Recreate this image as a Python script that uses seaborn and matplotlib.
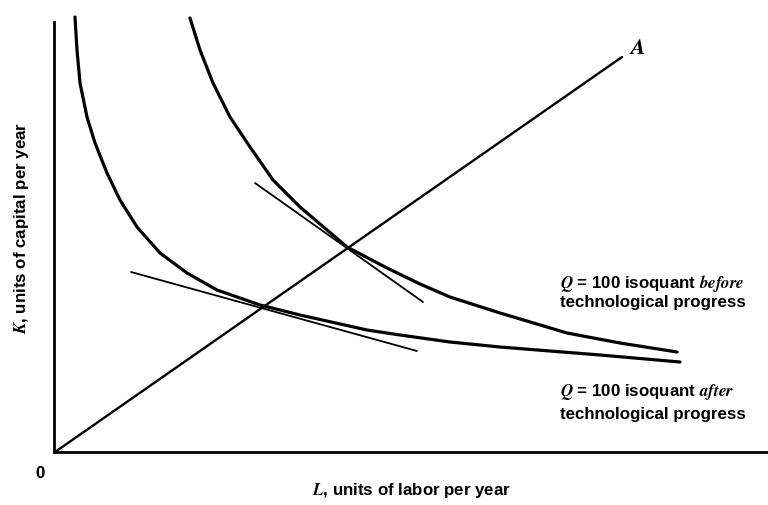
import matplotlib
matplotlib.use("Agg")
import matplotlib.pyplot as plt
import pandas as pd
import seaborn as sns

# isoquant "after" technological progress (lower curve)
after_L = [20, 22, 25, 32, 40, 52, 65, 82, 105, 132, 162, 205, 245, 312, 345, 395, 445, 495, 545, 625]
after_K = [435, 402, 369, 335, 309, 279, 252, 225, 199, 179, 162, 147, 137, 122, 117, 110, 105, 101, 97, 90]

# isoquant "before" technological progress (upper curve)
before_L = [135, 145, 158, 175, 195, 218, 245, 265, 292, 332, 365, 395, 445, 512, 565, 622]
before_K = [434, 402, 369, 335, 305, 272, 245, 228, 205, 184, 168, 155, 139, 119, 109, 100]

# tangent lines and ray A
tan_before_L = [200, 368]
tan_before_K = [269, 150]
tan_after_L = [76, 362]
tan_after_K = [180, 101]
ray_L = [0, 567]
ray_K = [0, 395]

sns.set_style("white")
plt.rcParams["font.family"] = ["Liberation Sans", "DejaVu Sans"]
plt.rcParams["mathtext.fontset"] = "stix"
plt.rcParams["text.color"] = "black"

fig = plt.figure(figsize=(7.68, 5.05), dpi=100)
ax = fig.add_axes([54 / 768, 53 / 505, 714 / 768, 452 / 505])

def curva(L, K, lw):
    df = pd.DataFrame({"L": L, "K": K})
    sns.lineplot(data=df, x="L", y="K", sort=False, estimator=None,
                 color="black", linewidth=lw, ax=ax)

curva(after_L, after_K, 2.3)
curva(before_L, before_K, 2.3)
curva(tan_before_L, tan_before_K, 1.3)
curva(tan_after_L, tan_after_K, 1.3)
curva(ray_L, ray_K, 1.7)

ax.set_xlim(-1, 713)
ax.set_ylim(0, 452)
ax.set_xticks([])
ax.set_yticks([])
ax.set_xlabel("")
ax.set_ylabel("")
sns.despine(ax=ax)
ax.spines["left"].set_bounds(0, 430)
for s in ["left", "bottom"]:
    ax.spines[s].set_linewidth(2)
    ax.spines[s].set_color("black")

fs = 12.2
fw = "bold"
ax.text(582, 404, "$\\mathbfit{A}$", fontsize=16, ha="center", va="center")
ax.text(505, 169, "$\\mathbfit{Q}$ = 100 isoquant $\\mathbfit{before}$", fontsize=fs, weight=fw, va="center")
ax.text(505, 149, "technological progress", fontsize=fs, weight=fw, va="center")
ax.text(505, 60, "$\\mathbfit{Q}$ = 100 isoquant $\\mathbfit{after}$", fontsize=fs, weight=fw, va="center")
ax.text(505, 38, "technological progress", fontsize=fs, weight=fw, va="center")

fig.text(40 / 768, 1 - 473 / 505, "0", fontsize=fs, weight=fw, ha="center", va="center")
fig.text(412 / 768, 1 - 490 / 505, "$\\mathbfit{L}$, units of labor per year",
         fontsize=fs, weight=fw, ha="center", va="center")
fig.text(22 / 768, 1 - 228 / 505, "$\\mathbfit{K}$, units of capital per year",
         fontsize=fs, weight=fw, ha="center", va="center", rotation=90)

plt.savefig("out.png", dpi=100)
